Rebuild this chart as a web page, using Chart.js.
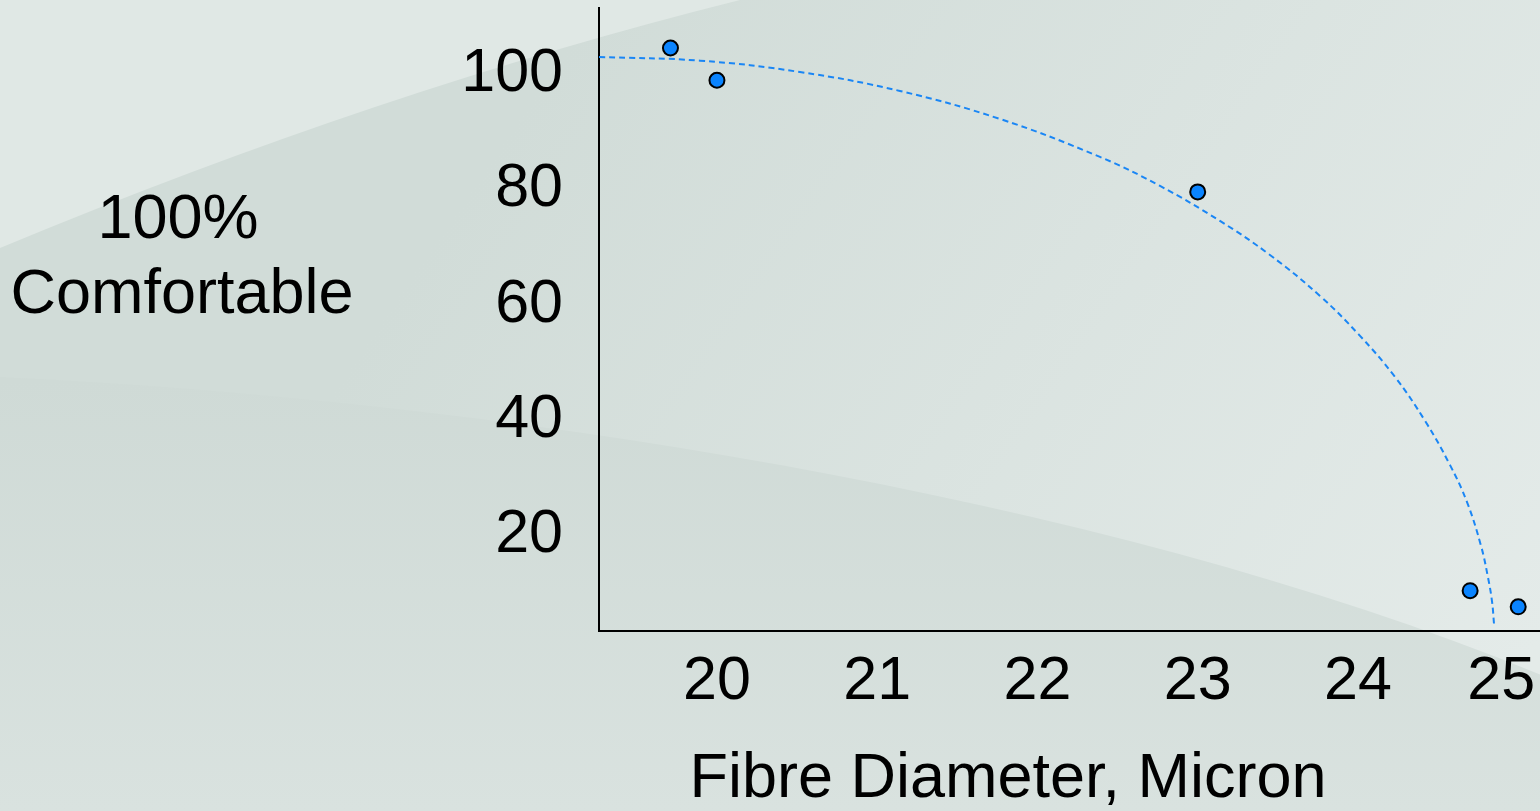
<!DOCTYPE html>
<html>
<head>
<meta charset="utf-8">
<title>Fibre Diameter vs Comfort</title>
<script src="https://cdn.jsdelivr.net/npm/chart.js@4.4.1/dist/chart.umd.min.js"></script>
<style>
  html, body { margin: 0; padding: 0; background: #d6dfdc; overflow: hidden; }
  #wrap { position: relative; width: 1540px; height: 811px; }
</style>
</head>
<body>
<div id="wrap"><canvas id="chart"></canvas></div>
<script>
// Measured wearers: fibre diameter (micron) and share reporting the garment comfortable (%)
const fibreDiameter = [19.71, 20.0, 23.0, 24.70, 25.0];
const comfortPct = [104.6, 99.0, 79.6, 10.3, 7.5];

// Fitted comfort curve (dashed)
const curveDiameter = [19.264, 19.894, 20.518, 21.142, 21.766, 22.390, 22.765, 23.139, 23.451, 23.763, 24.013, 24.231, 24.419, 24.574, 24.680, 24.768, 24.812, 24.837, 24.849];
const curveComfort = [103.04, 102.40, 100.43, 97.13, 92.27, 85.67, 80.63, 74.55, 68.64, 61.52, 54.57, 47.45, 39.80, 32.16, 25.73, 18.09, 12.53, 8.36, 4.53];

// Axis ticks and titles
const xTickValues = [20, 21, 22, 23, 24, 25];
const yTickValues = [20, 40, 60, 80, 100];
const xTitle = 'Fibre Diameter, Micron';
const yTitle = ['100%', 'Comfortable'];

const FONT = '"Liberation Sans", Arial, Helvetica, sans-serif';

// Slide-style backdrop with soft swooshes
const backdrop = {
  id: 'backdrop',
  beforeDraw(chart) {
    const { ctx, width, height } = chart;
    ctx.save();
    const g = ctx.createLinearGradient(600, 0, 1540, 640);
    g.addColorStop(0, '#d1dcd8');
    g.addColorStop(1, '#e4ebe9');
    ctx.fillStyle = g;
    ctx.fillRect(0, 0, width, height);

    // light wedge in the upper left
    ctx.beginPath();
    ctx.moveTo(0, 0);
    ctx.lineTo(0, 248);
    ctx.quadraticCurveTo(380, 90, 740, 0);
    ctx.closePath();
    ctx.fillStyle = '#e0e8e5';
    ctx.fill();

    // darker sweep across the lower part
    ctx.beginPath();
    ctx.moveTo(0, 377);
    ctx.bezierCurveTo(500, 400, 1150, 500, 1600, 700);
    ctx.lineTo(1600, height);
    ctx.lineTo(0, height);
    ctx.closePath();
    const g2 = ctx.createLinearGradient(0, 380, 0, 811);
    g2.addColorStop(0, '#cfdad6');
    g2.addColorStop(1, '#d9e2df');
    ctx.fillStyle = g2;
    ctx.fill();
    ctx.restore();
  }
};

// Horizontal axis titles
const axisTitles = {
  id: 'axisTitles',
  afterDraw(chart) {
    const { ctx } = chart;
    ctx.save();
    ctx.fillStyle = '#000';
    ctx.font = '63px ' + FONT;
    ctx.textAlign = 'center';
    ctx.textBaseline = 'middle';
    ctx.fillText(yTitle[0], 178, 221);
    ctx.fillText(yTitle[1], 182, 296);
    ctx.fillText(xTitle, 1008, 780);
    ctx.restore();
  }
};

new Chart(document.getElementById('chart'), {
  type: 'scatter',
  data: {
    datasets: [
      {
        type: 'line',
        label: 'Fitted curve',
        data: curveDiameter.map((x, i) => ({ x, y: curveComfort[i] })),
        borderColor: '#1a86f5',
        borderWidth: 2,
        borderDash: [6, 4],
        pointRadius: 0,
        fill: false,
        tension: 0.4,
        order: 2
      },
      {
        label: 'Comfortable',
        data: fibreDiameter.map((x, i) => ({ x, y: comfortPct[i] })),
        backgroundColor: '#0a84ff',
        borderColor: '#000',
        borderWidth: 2,
        pointRadius: 7.5,
        pointHoverRadius: 7.5,
        order: 1
      }
    ]
  },
  options: {
    responsive: true,
    maintainAspectRatio: false,
    animation: false,
    layout: { autoPadding: false, padding: { top: 8, left: 0, right: 0, bottom: 0 } },
    plugins: {
      legend: { display: false },
      tooltip: { enabled: false }
    },
    scales: {
      x: {
        type: 'linear',
        min: 19.264,
        max: 25.136,
        afterBuildTicks: (s) => { s.ticks = xTickValues.map(v => ({ value: v })); },
        afterFit: (s) => { s.height = 180; s.paddingLeft = 0; s.paddingRight = 0; },
        grid: { display: false, drawTicks: false },
        border: { display: true, color: '#000', width: 2 },
        ticks: {
          color: '#000',
          font: { family: FONT, size: 61, lineHeight: 1.2 },
          padding: 15,
          maxRotation: 0,
          autoSkip: false,
          callback: (v) => (v === 25 ? '25  ' : String(v))
        }
      },
      y: {
        type: 'linear',
        min: 3.3,
        max: 111.55,
        afterBuildTicks: (s) => { s.ticks = yTickValues.map(v => ({ value: v })); },
        afterFit: (s) => { s.width = 599; s.paddingTop = 0; s.paddingBottom = 0; },
        grid: { display: false, drawTicks: false },
        border: { display: true, color: '#000', width: 2 },
        ticks: {
          color: '#000',
          font: { family: FONT, size: 61 },
          padding: 36,
          autoSkip: false,
          callback: (v) => String(v)
        }
      }
    }
  },
  plugins: [backdrop, axisTitles]
});
</script>
</body>
</html>
